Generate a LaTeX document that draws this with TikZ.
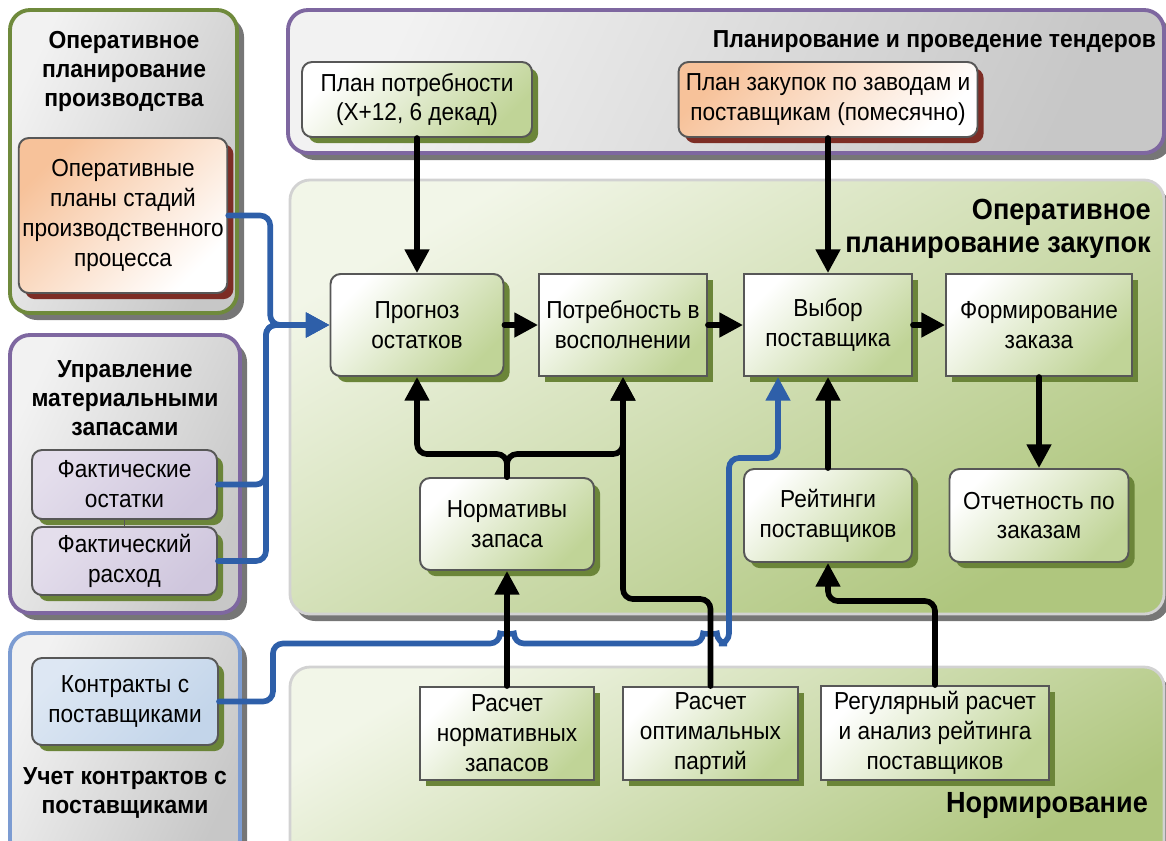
\documentclass[tikz,border=0pt]{standalone}
\usepackage{fontspec}
\setmainfont{Liberation Sans}
\newfontfamily\boxfont[FakeStretch=0.92]{Liberation Sans}
\newfontfamily\headfont[FakeStretch=0.93]{Liberation Sans}
\usetikzlibrary{shadows,arrows.meta,calc}

\definecolor{olivebd}{HTML}{6F8A3C}
\definecolor{purplebd}{HTML}{7E67A0}
\definecolor{bluebd}{HTML}{7C9CD2}
\definecolor{panelshd}{HTML}{767676}
\definecolor{greenhi}{HTML}{F2F6E8}
\definecolor{greenmid}{HTML}{CADBA8}
\definecolor{greenlo}{HTML}{AFC67E}
\definecolor{boxmid}{HTML}{D7E4BD}
\definecolor{boxgreen}{HTML}{C0D497}
\definecolor{boxshd}{HTML}{6B8539}
\definecolor{redshd}{HTML}{7D2D25}
\definecolor{orangebox}{HTML}{F7C29A}
\definecolor{lavhi}{HTML}{E4DEEC}
\definecolor{lavlo}{HTML}{CFC6DD}
\definecolor{bluehi}{HTML}{DDE7F3}
\definecolor{bluelo}{HTML}{C3D5EA}
\definecolor{flowblue}{HTML}{2E5FA9}
\definecolor{boxline}{HTML}{575757}

\begin{document}
\begin{tikzpicture}[x=0.02cm, y=-0.02cm,
  graypanel/.style={line width=2.2pt, rounded corners=0.4cm, left color=gray!10, right color=gray!44, shading angle=65,
    drop shadow={shadow xshift=4pt, shadow yshift=-4pt, fill=panelshd, opacity=1}},
  greenpanel/.style={draw=gray!35, line width=1.6pt, rounded corners=0.4cm, left color=greenhi, middle color=greenmid, right color=greenlo, shading angle=30,
    drop shadow={shadow xshift=3pt, shadow yshift=-4pt, fill=panelshd, opacity=1}},
  head/.style={font=\headfont\bfseries\fontsize{14}{16.5}\selectfont, align=center},
  bighead/.style={font=\headfont\bfseries\fontsize{16.6}{19}\selectfont, align=right},
  box/.style={draw=boxline, line width=1.1pt, align=center, inner sep=2pt, font=\boxfont\fontsize{14}{17}\selectfont},
  sbox/.style={box, left color=white, middle color=boxmid, right color=boxgreen, shading angle=45,
    drop shadow={shadow xshift=3.5pt, shadow yshift=-3.5pt, fill=boxshd, opacity=1}},
  rbox/.style={sbox, rounded corners=0.2cm},
  obox/.style={box, rounded corners=0.2cm, left color=orangebox, right color=white, shading angle=45,
    drop shadow={shadow xshift=3.5pt, shadow yshift=-3.5pt, fill=redshd, opacity=1}},
  lbox/.style={rbox, left color=lavhi, middle color=lavhi!50!lavlo, right color=lavlo, shading angle=45},
  bbox/.style={rbox, left color=bluehi, middle color=bluehi!50!bluelo, right color=bluelo, shading angle=45},
  arr/.style={line width=3.2pt, line cap=round, rounded corners=0.2cm, -{Triangle[length=13.5pt,width=13.5pt]}},
  barr/.style={arr, draw=flowblue}]
\useasboundingbox (0,0) rectangle (1166,840);

% panels
\draw[graypanel, draw=olivebd] (10,10) rectangle (237,313);
\draw[graypanel, draw=purplebd] (10,335) rectangle (240,613);
\draw[graypanel, draw=bluebd] (10,633) rectangle (240,860);
\draw[graypanel, draw=purplebd] (288,10) rectangle (1164,153);
\draw[greenpanel] (290,180) rectangle (1164,614);
\draw[greenpanel] (290,667) rectangle (1164,860);

\node[head] (t-prod) at (124,71) {Оперативное\\планирование\\производства};
\node[head] (t-stock) at (125,398) {Управление\\материальными\\запасами};
\node[head] (t-contr) at (125,793) {Учет контрактов с\\поставщиками};
\node[head, anchor=east] (t-tender) at (1162,42) {Планирование и проведение тендеров};
\node[bighead, anchor=east] (t-oper) at (1157,229) {Оперативное\\планирование закупок};
\node[bighead, anchor=east] (t-norm) at (1154,805) {Нормирование};

% boxes
\node[rbox, minimum width=4.6cm, minimum height=1.5cm] (planneed) at (417,99.5) {План потребности\\(X+12, 6 декад)};
\node[obox, minimum width=5.98cm, minimum height=1.5cm] (planbuy) at (828,99.5) {План закупок по заводам и\\поставщикам (помесячно)};
\node[obox, minimum width=4cm, minimum height=3.1cm] (opplans) at (123,215.5) {Оперативные\\планы стадий\\производственного\\процесса};
\node[lbox, minimum width=3.7cm, minimum height=1.38cm] (factrest) at (124.5,484.5) {Фактические\\остатки};
\node[lbox, minimum width=3.7cm, minimum height=1.36cm] (factuse) at (124.5,561) {Фактический\\расход};
\node[bbox, minimum width=3.72cm, minimum height=1.74cm] (contracts) at (125,701.5) {Контракты с\\поставщиками};

\node[rbox, minimum width=3.46cm, minimum height=2.04cm] (forecast) at (417,325) {Прогноз\\остатков};
\node[sbox, minimum width=3.36cm, minimum height=2.04cm] (need) at (623,325) {Потребность в\\восполнении};
\node[sbox, minimum width=3.36cm, minimum height=2.04cm] (choice) at (828,325) {Выбор\\поставщика};
\node[sbox, minimum width=3.72cm, minimum height=2.04cm] (order) at (1039,325) {Формирование\\заказа};
\node[rbox, minimum width=3.48cm, minimum height=1.84cm] (norms) at (507,524) {Нормативы\\запаса};
\node[rbox, minimum width=3.36cm, minimum height=1.86cm] (ratings) at (828,515.5) {Рейтинги\\поставщиков};
\node[rbox, minimum width=3.58cm, minimum height=1.86cm] (report) at (1039,515.5) {Отчетность по\\заказам};

\node[sbox, minimum width=3.48cm, minimum height=1.86cm] (calcnorm) at (507,733.5) {Расчет\\нормативных\\запасов};
\node[sbox, minimum width=3.5cm, minimum height=1.86cm] (calcbatch) at (710.5,733.5) {Расчет\\оптимальных\\партий};
\node[sbox, minimum width=4.56cm, minimum height=1.88cm] (calcrate) at (935,733) {Регулярный расчет\\и анализ рейтинга\\поставщиков};

\draw[boxline, line width=0.6pt] (factrest.south) -- (factuse.north);

% blue flows
\draw[barr] (opplans.east) -- ++(42,0) |- (forecast.west);
\draw[barr] (factrest.east) -- ++(48,0) |- (forecast.west);
\draw[barr] (factuse.east) -- ++(48,0) |- (forecast.west);
\draw[barr] (contracts.east) -- ++(54,0) -- ++(0,-58) -- (500,643.5)
  .. controls (500,634) and (514,634) .. (514,643.5) -- (703,643.5)
  .. controls (703,634) and (717,634) .. (717,643.5) -- (729,643.5) -- (729,458)
  -| ($(choice.south)+(-50,0)$);

% black flows
\draw[arr] (planneed.south) -- (forecast.north);
\draw[arr] (planbuy.south) -- (choice.north);
\draw[arr] (forecast.east) -- (need.west);
\draw[arr] (need.east) -- (choice.west);
\draw[arr] (choice.east) -- (order.west);
\draw[arr] (order.south) -- (report.north);
\draw[arr] (ratings.north) -- (choice.south);
\draw[arr] (calcnorm.north) -- (norms.south);
\draw[arr] (norms.north) -- ++(0,-23) -| (forecast.south);
\draw[arr] (norms.north) -- ++(0,-23) -| (need.south);
\draw[arr] (calcbatch.north) -- ++(0,-87) -| (need.south);
\draw[arr] (calcrate.north) -- ++(0,-84) -| (ratings.south);
\end{tikzpicture}
\end{document}
